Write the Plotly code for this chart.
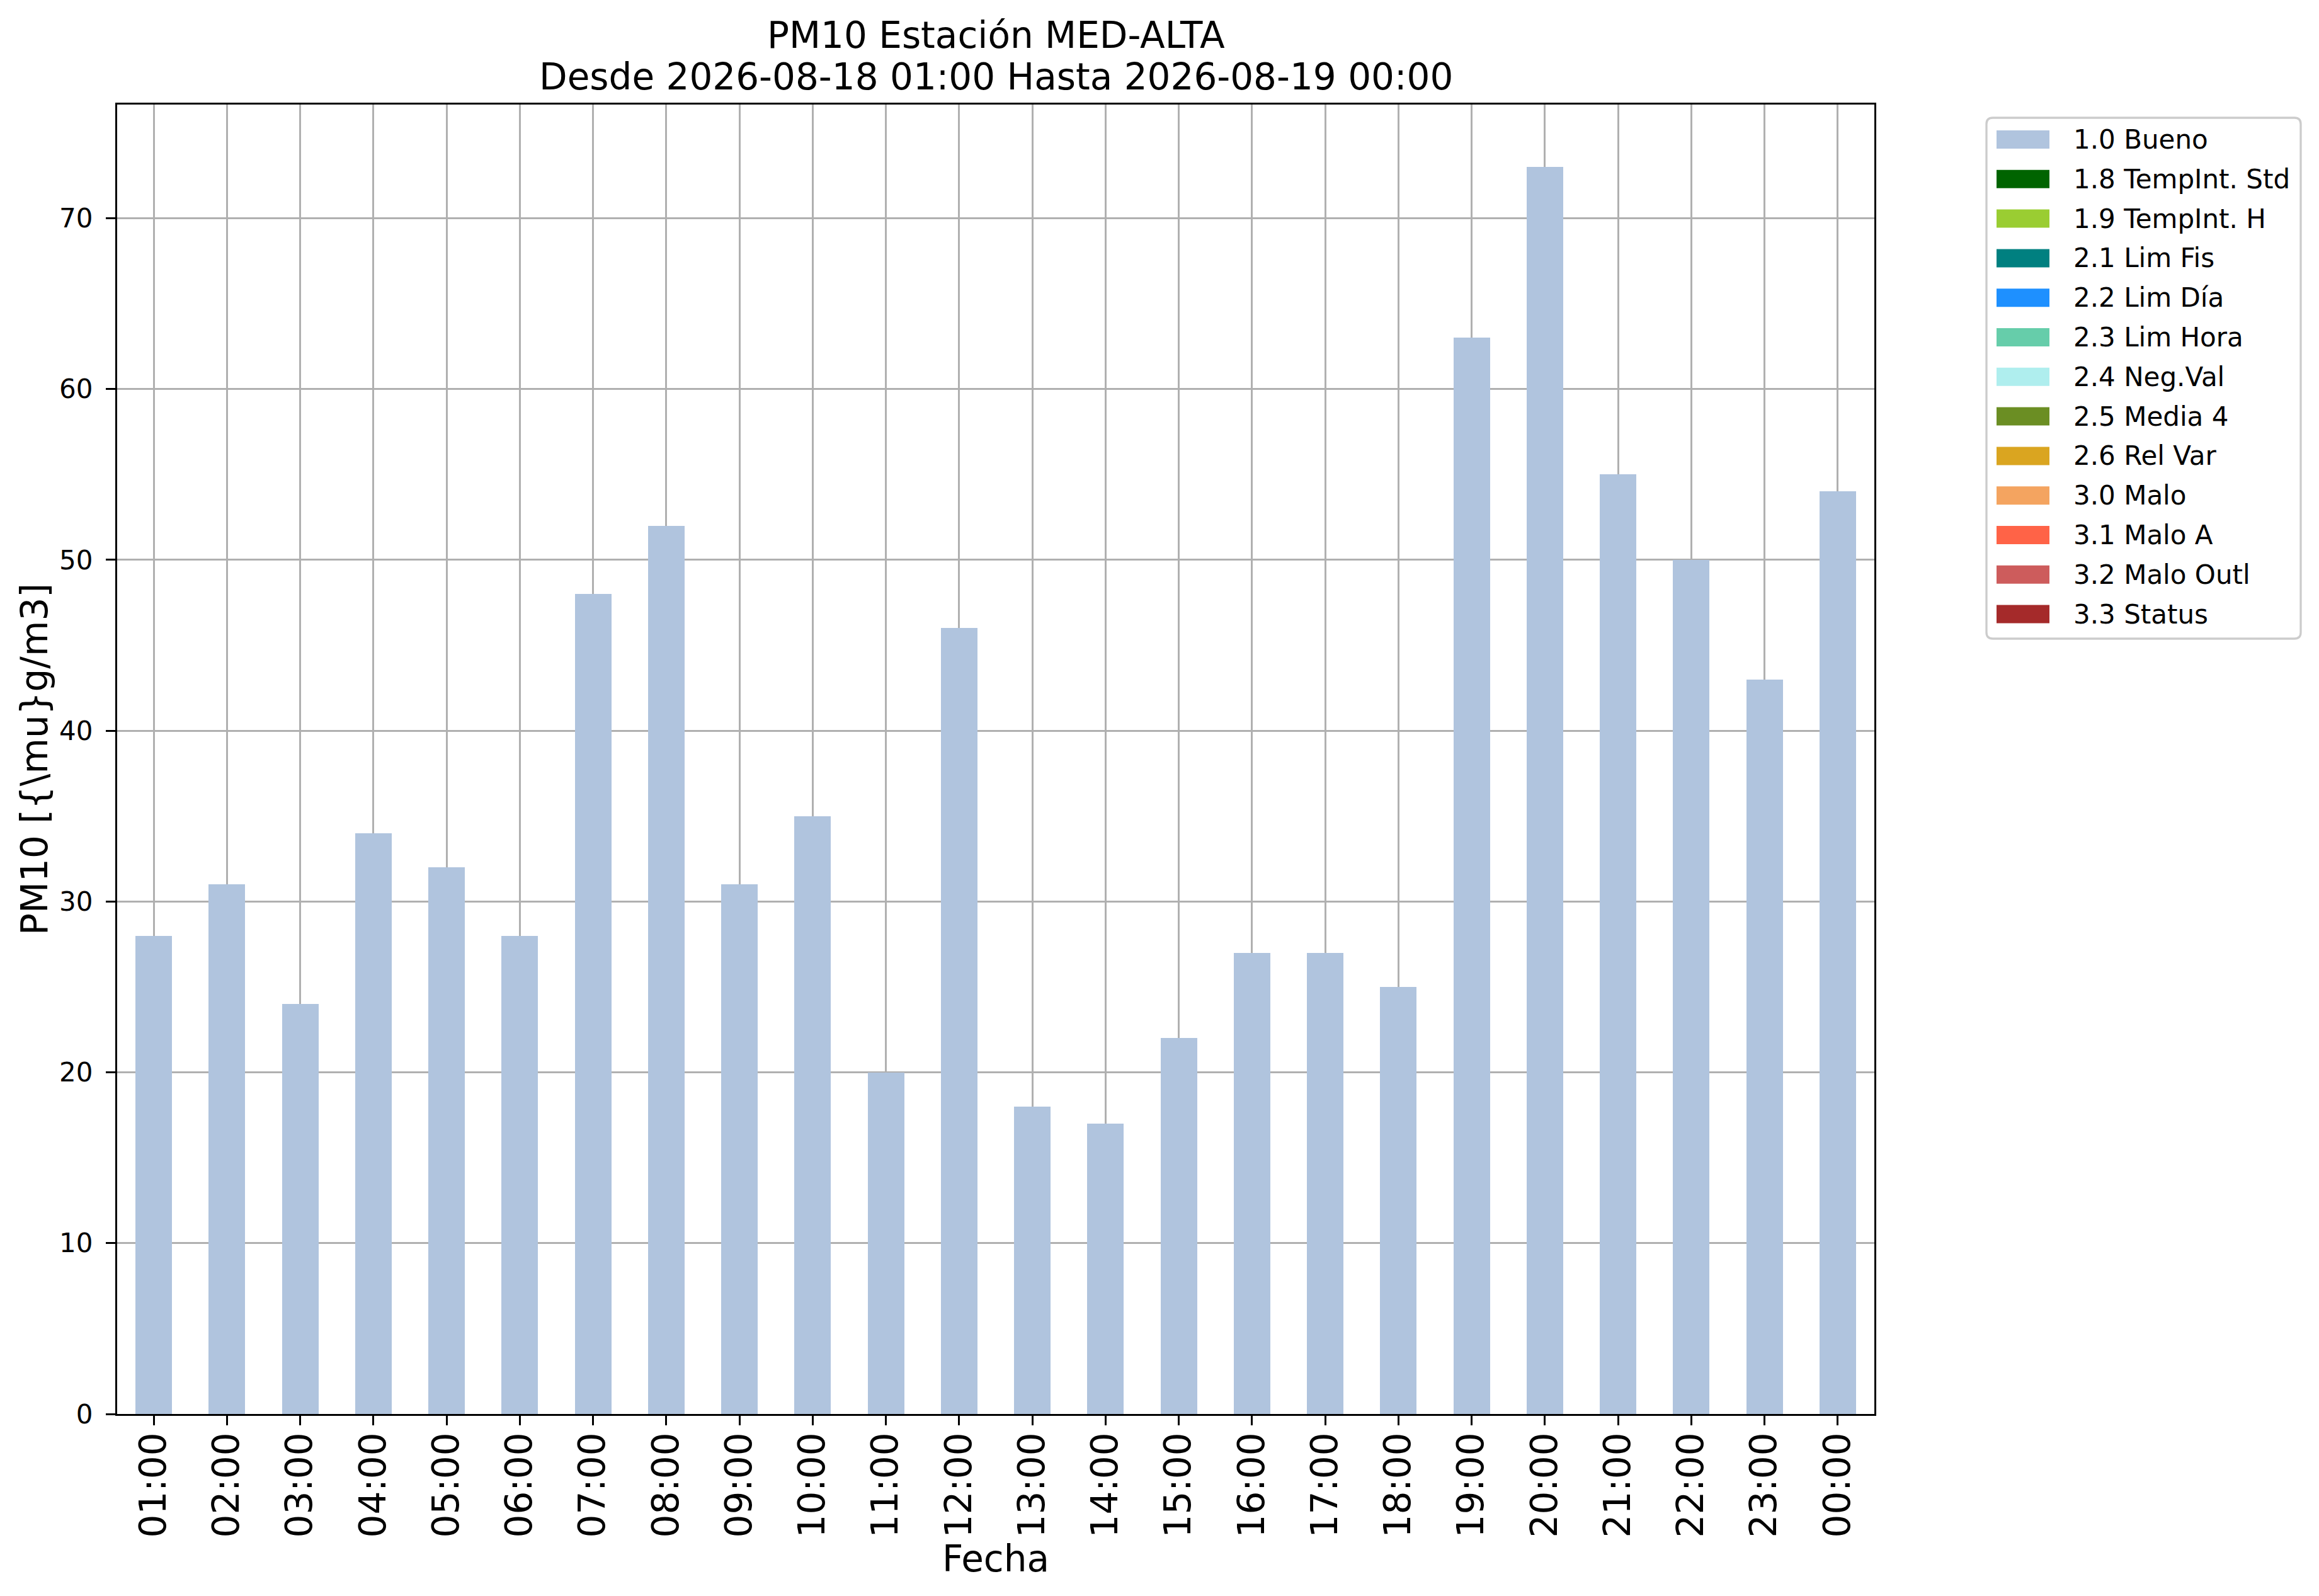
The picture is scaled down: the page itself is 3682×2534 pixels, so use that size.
import plotly.graph_objects as go

# hourly PM10 values (only the "1.0 Bueno" flag carries data)
horas = ["01:00", "02:00", "03:00", "04:00", "05:00", "06:00", "07:00", "08:00",
         "09:00", "10:00", "11:00", "12:00", "13:00", "14:00", "15:00", "16:00",
         "17:00", "18:00", "19:00", "20:00", "21:00", "22:00", "23:00", "00:00"]
bueno = [28, 31, 24, 34, 32, 28, 48, 52, 31, 35, 20, 46,
         18, 17, 22, 27, 27, 25, 63, 73, 55, 50, 43, 54]

flag_names = ["1.0 Bueno", "1.8 TempInt. Std", "1.9 TempInt. H", "2.1 Lim Fis",
              "2.2 Lim Día", "2.3 Lim Hora", "2.4 Neg.Val", "2.5 Media 4",
              "2.6 Rel Var", "3.0 Malo", "3.1 Malo A", "3.2 Malo Outl", "3.3 Status"]
flag_colors = ["#B0C4DE", "#006400", "#9ACD32", "#008080", "#1E90FF", "#66CDAA",
               "#AFEEEE", "#6B8E23", "#DAA520", "#F4A460", "#FF6347", "#CD5C5C",
               "#A52A2A"]

title_lines = ["PM10 Estación MED-ALTA", "Desde 2026-08-18 01:00 Hasta 2026-08-19 00:00"]

FONT = "DejaVu Sans"
W, H = 3682, 2534
L, R, T, B = 186, 2976, 166, 2245


def px_x(px):
    return (px - L) / (R - L)


def px_y(py):
    return (B - py) / (B - T)


fig = go.Figure()
for i, (name, color) in enumerate(zip(flag_names, flag_colors)):
    vals = bueno if i == 0 else [None] * len(horas)
    fig.add_trace(go.Bar(x=horas, y=vals, name=name, marker=dict(color=color, line=dict(width=0)),
                         showlegend=False))

# legend drawn by hand (matplotlib-like wide patches)
lx0, lx1, ly0, ly1 = 3154, 3653, 187, 1014
r = 10
path = (f"M {px_x(lx0 + r)},{px_y(ly0)} L {px_x(lx1 - r)},{px_y(ly0)} "
        f"Q {px_x(lx1)},{px_y(ly0)} {px_x(lx1)},{px_y(ly0 + r)} "
        f"L {px_x(lx1)},{px_y(ly1 - r)} Q {px_x(lx1)},{px_y(ly1)} {px_x(lx1 - r)},{px_y(ly1)} "
        f"L {px_x(lx0 + r)},{px_y(ly1)} Q {px_x(lx0)},{px_y(ly1)} {px_x(lx0)},{px_y(ly1 - r)} "
        f"L {px_x(lx0)},{px_y(ly0 + r)} Q {px_x(lx0)},{px_y(ly0)} {px_x(lx0 + r)},{px_y(ly0)} Z")
fig.add_shape(type="path", path=path, xref="paper", yref="paper",
              fillcolor="rgba(255,255,255,0.8)", line=dict(color="#cccccc", width=3.3))
for i, (name, color) in enumerate(zip(flag_names, flag_colors)):
    cy = 221.5 + i * 62.8
    fig.add_shape(type="rect", xref="paper", yref="paper",
                  x0=px_x(3170), x1=px_x(3254), y0=px_y(cy - 14.5), y1=px_y(cy + 14.5),
                  fillcolor=color, line=dict(width=0))
    fig.add_annotation(x=px_x(3290), y=px_y(cy), xref="paper", yref="paper", text=name,
                       showarrow=False, xanchor="left", yanchor="middle",
                       font=dict(family=FONT, size=42, color="black"))

# two-line title, one annotation per line (matplotlib line spacing)
for line, cy in zip(title_lines, [56, 122]):
    fig.add_annotation(x=0.5, y=px_y(cy), xref="paper", yref="paper", text=line,
                       showarrow=False, xanchor="center", yanchor="middle",
                       font=dict(family=FONT, size=58, color="black"))

fig.update_layout(
    width=W, height=H,
    barmode="stack", bargap=0.5,
    paper_bgcolor="white", plot_bgcolor="white",
    margin=dict(l=L, r=W - R, t=T, b=H - B, pad=0),
    font=dict(family=FONT, color="black"),
    showlegend=False,
)
fig.update_xaxes(
    type="category", range=[-0.5, len(horas) - 0.5],
    tickangle=-90, tickfont=dict(family=FONT, size=58, color="black"),
    ticks="outside", ticklen=15, tickwidth=3.3, tickcolor="black", ticklabelstandoff=-12,
    showline=True, mirror=True, linecolor="black", linewidth=3.3,
    showgrid=True, gridcolor="#b0b0b0", gridwidth=3.3, layer="above traces",
    title=dict(text="Fecha", font=dict(family=FONT, size=58, color="black"), standoff=0),
    automargin=False,
)
fig.update_yaxes(
    range=[0, 76.65], tickvals=[0, 10, 20, 30, 40, 50, 60, 70],
    tickfont=dict(family=FONT, size=42, color="black"),
    ticks="outside", ticklen=15, tickwidth=3.3, tickcolor="black", ticklabelstandoff=12,
    showline=True, mirror=True, linecolor="black", linewidth=3.3, zeroline=False,
    showgrid=True, gridcolor="#b0b0b0", gridwidth=3.3, layer="above traces",
    title=dict(text="PM10 [{\\mu}g/m3]", font=dict(family=FONT, size=58, color="black"), standoff=0),
    automargin=False,
)

fig.write_html("out.html", config={"displayModeBar": False},
               post_script="document.body.style.margin='0';")
